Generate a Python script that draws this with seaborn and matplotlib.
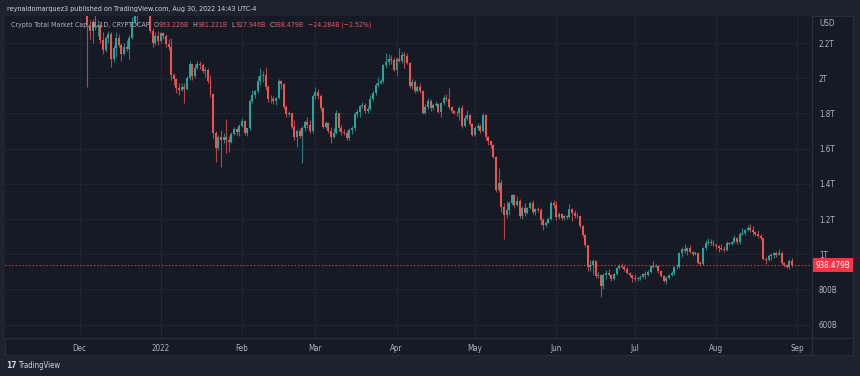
import numpy as np
import pandas as pd
import matplotlib
matplotlib.use("Agg")
import matplotlib.pyplot as plt
import matplotlib.dates as mdates
from matplotlib.patches import Rectangle
import seaborn as sns

# Crypto Total Market Cap (TOTAL), daily candles, values in billions USD
# each day's open is the previous day's close
first_open = 2600

dec_close = [2560, 2520, 2420, 2300, 2270, 2320, 2290, 2305, 2215, 2160, 2230, 2250, 2110, 2170, 2230, 2190,
             2140, 2180, 2165, 2230, 2320, 2385, 2440, 2445, 2450, 2460, 2380, 2270, 2200, 2240, 2210]
dec_high = [2640, 2580, 2540, 2430, 2330, 2335, 2370, 2330, 2315, 2260, 2240, 2270, 2260, 2190, 2265, 2250,
            2200, 2200, 2215, 2245, 2345, 2410, 2470, 2480, 2470, 2480, 2500, 2385, 2285, 2260, 2270]
dec_low = [2520, 2490, 2400, 1950, 2220, 2200, 2275, 2240, 2200, 2140, 2150, 2200, 2065, 2090, 2120, 2180,
           2100, 2130, 2155, 2110, 2225, 2310, 2300, 2400, 2420, 2420, 2370, 2255, 2180, 2190, 2190]

jan_close = [2255, 2240, 2195, 2175, 2020, 1995, 1945, 1935, 1950, 1940, 2000, 2080, 2010, 2060, 2080, 2075,
             2040, 2045, 1985, 1910, 1690, 1605, 1665, 1650, 1665, 1650, 1640, 1685, 1710, 1695, 1730]
jan_high = [2265, 2265, 2250, 2220, 2230, 2030, 2000, 1975, 1975, 1970, 2010, 2095, 2080, 2080, 2095, 2100,
            2085, 2065, 2060, 2020, 1915, 1700, 1680, 1705, 1690, 1770, 1670, 1695, 1725, 1720, 1740]
jan_low = [2200, 2225, 2180, 2160, 1990, 1960, 1915, 1905, 1930, 1860, 1935, 1990, 1990, 2000, 2055, 2050,
           2030, 2005, 1970, 1895, 1660, 1525, 1590, 1495, 1630, 1575, 1580, 1630, 1675, 1680, 1670]

feb_close = [1755, 1690, 1715, 1870, 1905, 1925, 1985, 2010, 2020, 1950, 1880, 1880, 1870, 1885, 1985, 1965,
             1835, 1795, 1800, 1725, 1665, 1700, 1670, 1720, 1750, 1735, 1700, 1900]
feb_high = [1775, 1765, 1720, 1880, 1935, 1935, 2010, 2060, 2040, 2065, 1960, 1905, 1900, 1895, 1995, 1990,
            1975, 1850, 1815, 1805, 1765, 1710, 1720, 1730, 1765, 1780, 1760, 1910]
feb_low = [1725, 1680, 1670, 1705, 1860, 1890, 1915, 1960, 1980, 1935, 1865, 1860, 1855, 1850, 1880, 1940,
           1825, 1780, 1785, 1715, 1650, 1610, 1660, 1520, 1700, 1720, 1690, 1690]

mar_close = [1920, 1900, 1830, 1725, 1745, 1700, 1665, 1690, 1800, 1720, 1695, 1690, 1660, 1705, 1715, 1795,
             1810, 1840, 1850, 1815, 1825, 1880, 1915, 1960, 1975, 1985, 2075, 2090, 2110, 2105, 2045]
mar_high = [1950, 1940, 1910, 1835, 1755, 1750, 1725, 1720, 1820, 1800, 1735, 1710, 1705, 1715, 1730, 1810,
            1825, 1850, 1865, 1860, 1845, 1905, 1925, 1970, 2005, 1995, 2080, 2145, 2140, 2130, 2120]
mar_low = [1880, 1880, 1815, 1715, 1720, 1690, 1630, 1660, 1685, 1700, 1680, 1675, 1650, 1650, 1685, 1705,
           1780, 1780, 1830, 1805, 1800, 1820, 1870, 1905, 1950, 1965, 1975, 2060, 2075, 2080, 2040]

apr_close = [2110, 2095, 2130, 2125, 2085, 1955, 1980, 1925, 1950, 1925, 1805, 1835, 1870, 1830, 1850, 1855,
             1810, 1860, 1890, 1880, 1835, 1815, 1805, 1800, 1830, 1730, 1775, 1790, 1740, 1680]
apr_high = [2120, 2170, 2150, 2150, 2145, 2090, 1995, 1990, 1960, 1975, 1935, 1855, 1885, 1880, 1860, 1870,
            1860, 1865, 1905, 1910, 1945, 1845, 1820, 1815, 1845, 1850, 1790, 1820, 1795, 1745]
apr_low = [2010, 2090, 2085, 2060, 2080, 1945, 1940, 1915, 1920, 1915, 1795, 1795, 1825, 1815, 1820, 1840,
           1800, 1780, 1850, 1870, 1825, 1805, 1795, 1785, 1760, 1720, 1725, 1765, 1730, 1670]

may_close = [1720, 1730, 1700, 1790, 1665, 1645, 1620, 1555, 1365, 1405, 1270, 1225, 1250, 1290, 1335, 1280,
             1305, 1215, 1265, 1235, 1260, 1290, 1240, 1255, 1250, 1195, 1165, 1180, 1200, 1290, 1280]
may_high = [1730, 1745, 1740, 1800, 1795, 1670, 1650, 1625, 1560, 1490, 1420, 1290, 1300, 1300, 1345, 1340,
            1330, 1315, 1275, 1290, 1270, 1300, 1310, 1265, 1270, 1260, 1205, 1190, 1210, 1305, 1310]
may_low = [1670, 1705, 1690, 1695, 1650, 1620, 1605, 1545, 1355, 1355, 1240, 1085, 1205, 1225, 1280, 1265,
           1275, 1205, 1200, 1220, 1230, 1255, 1230, 1225, 1240, 1165, 1140, 1155, 1175, 1195, 1265]

jun_close = [1210, 1230, 1205, 1215, 1210, 1255, 1235, 1220, 1215, 1160, 1110, 1050, 925, 940, 960, 875,
             885, 820, 885, 895, 880, 860, 890, 920, 935, 925, 915, 895, 880, 865]
jun_high = [1300, 1240, 1235, 1225, 1225, 1285, 1260, 1250, 1235, 1220, 1165, 1115, 1055, 970, 975, 965,
            900, 890, 895, 910, 915, 890, 895, 925, 945, 950, 940, 930, 900, 885]
jun_low = [1195, 1200, 1195, 1195, 1200, 1205, 1190, 1205, 1205, 1150, 1100, 1040, 905, 905, 880, 865,
           865, 760, 800, 860, 875, 850, 855, 885, 915, 920, 905, 890, 870, 840]

jul_close = [858, 865, 872, 890, 885, 900, 935, 930, 935, 905, 875, 850, 868, 880, 895, 930,
             925, 1005, 1030, 1020, 1035, 1015, 1000, 1010, 950, 945, 1035, 1065, 1070, 1062, 1055]
jul_high = [890, 870, 880, 895, 905, 910, 940, 960, 945, 940, 910, 880, 875, 890, 905, 935,
            945, 1015, 1040, 1060, 1040, 1055, 1020, 1020, 1015, 960, 1040, 1080, 1090, 1085, 1080]
jul_low = [850, 850, 855, 865, 860, 875, 895, 920, 925, 895, 870, 845, 830, 860, 875, 885,
           915, 920, 985, 1010, 995, 1005, 990, 995, 945, 935, 940, 1025, 1055, 1055, 1045]

aug_close = [1045, 1035, 1030, 1025, 1065, 1060, 1068, 1095, 1070, 1115, 1120, 1140, 1150, 1140, 1125, 1115,
             1105, 1090, 975, 965, 990, 995, 1005, 995, 1010, 950, 940, 925, 962.763, 938.479]
aug_high = [1065, 1055, 1060, 1045, 1075, 1070, 1075, 1110, 1100, 1125, 1150, 1145, 1165, 1170, 1160, 1135,
            1140, 1115, 1090, 985, 1000, 1005, 1015, 1020, 1030, 1020, 955, 945, 975, 981.221]
aug_low = [1030, 1015, 1025, 1015, 1020, 1055, 1055, 1065, 1060, 1060, 1110, 1110, 1135, 1125, 1110, 1105,
           1090, 1080, 965, 945, 960, 970, 980, 985, 995, 945, 930, 920, 915, 927.946]

month_labels = ["Dec", "2022", "Feb", "Mar", "Apr", "May", "Jun", "Jul", "Aug", "Sep"]
price_ticks = [600, 800, 1000, 1200, 1400, 1600, 1800, 2000, 2200]
price_labels = ["600B", "800B", "1T", "1.2T", "1.4T", "1.6T", "1.8T", "2T", "2.2T"]
last_price = 938.479

closes = dec_close + jan_close + feb_close + mar_close + apr_close + may_close + jun_close + jul_close + aug_close
highs = dec_high + jan_high + feb_high + mar_high + apr_high + may_high + jun_high + jul_high + aug_high
lows = dec_low + jan_low + feb_low + mar_low + apr_low + may_low + jun_low + jul_low + aug_low

df = pd.DataFrame({"date": pd.date_range("2021-12-01", periods=len(closes), freq="D"),
                   "close": closes, "high": highs, "low": lows})
df["open"] = [first_open] + closes[:-1]
df["up"] = df["close"] >= df["open"]

UP, DOWN = "#26a69a", "#ef5350"
BG, OUTER, LINE = "#161a25", "#1e222d", "#2a2e39"
TXT = "#b2b5be"

sns.set_style("dark", {"axes.facecolor": BG, "figure.facecolor": OUTER})
plt.rcParams["font.family"] = ["DejaVu Sans"]
plt.rcParams["font.stretch"] = "condensed"

W, H = 860, 376
fig = plt.figure(figsize=(W / 100, H / 100), dpi=100)

def fx(px):
    return px / W

def fy(py):
    return 1 - py / H

# chart pane background and separators
fig.patches.append(Rectangle((fx(5), fy(355)), fx(848), 339 / H, transform=fig.transFigure,
                             facecolor=BG, edgecolor=LINE, lw=0.8, zorder=-5))
ax = fig.add_axes([fx(5), fy(338), fx(807), 322 / H])
ax.set_facecolor(BG)
for s in ax.spines.values():
    s.set_visible(False)
fig.add_artist(plt.Line2D([fx(812), fx(812)], [fy(16), fy(355)], color=LINE, lw=0.8))
fig.add_artist(plt.Line2D([fx(5), fx(853)], [fy(338), fy(338)], color=LINE, lw=0.8))

# candles
xd = mdates.date2num(df["date"])
cols = np.where(df["up"], UP, DOWN)
ax.vlines(xd, df["low"], df["high"], colors=cols, linewidth=0.8, alpha=0.75, zorder=2)
body_lo = np.minimum(df["open"], df["close"])
body_h = np.maximum((df["close"] - df["open"]).abs(), 3)
ax.bar(xd, body_h, bottom=body_lo, width=0.76, color=cols, linewidth=0, zorder=3)

# axes ranges
d0 = mdates.date2num(pd.Timestamp("2021-12-01"))
ax.set_xlim(d0 - 28.44, d0 + 279.6)
ax.set_ylim(524.4, 2353.4)

month_pos = mdates.date2num(pd.date_range("2021-12-01", periods=len(month_labels), freq="MS"))
ax.set_xticks(month_pos)
ax.set_xticklabels(month_labels)
ax.set_yticks(price_ticks)
ax.set_yticklabels(price_labels)
ax.yaxis.tick_right()
ax.tick_params(axis="x", length=0, pad=4.5, labelsize=5.8, colors=TXT)
ax.tick_params(axis="y", length=0, pad=5, labelsize=5.8, colors=TXT)
for lab in ax.get_yticklabels():
    lab.set_horizontalalignment("left")
ax.grid(True, color="#1f2431", lw=0.8)
ax.set_axisbelow(True)

# last price line and label
ax.axhline(last_price, color=DOWN, lw=0.7, ls=(0, (1.5, 2)), alpha=0.8, zorder=4)
ax.annotate("938.479B", xy=(1, last_price), xycoords=("axes fraction", "data"),
            xytext=(2.4, 0), textcoords="offset points", va="center", ha="left",
            fontsize=5.8, color="white", annotation_clip=False,
            bbox=dict(boxstyle="square,pad=0.3", fc="#f23645", ec="none"))
fig.text(fx(819), fy(24), "USD", color=TXT, fontsize=5.8, va="center", ha="left")

# header lines
fig.text(fx(7), fy(9), "reynaldomarquez3 published on TradingView.com, Aug 30, 2022 14:43 UTC-4",
         color="#d1d4dc", fontsize=5.1, va="center", ha="left")

RED_T = "#f7525f"
parts = [("Crypto Total Market Cap, $, 1D, CRYPTOCAP  ", TXT), ("O", TXT), ("963.226B", RED_T),
         ("  H", TXT), ("981.221B", RED_T), ("  L", TXT), ("927.946B", RED_T),
         ("  C", TXT), ("938.479B", RED_T), ("  \u221224.284B (\u22122.52%)", RED_T)]
t = fig.text(fx(11), fy(25), parts[0][0], color=parts[0][1], fontsize=5.0, va="center", ha="left")
for s, c in parts[1:]:
    t = ax.annotate(s, xy=(1, 0), xycoords=t, xytext=(0, 0), textcoords="offset points",
                    color=c, fontsize=5.0, va="bottom", ha="left", annotation_clip=False)

# footer logo
fig.text(fx(6), fy(366), "17", color="#d1d4dc", fontsize=6, fontweight="bold", va="center", ha="left")
fig.text(fx(18), fy(366), "TradingView", color="#d1d4dc", fontsize=5.6, va="center", ha="left")

fig.savefig("out.png", dpi=100, facecolor=OUTER)
